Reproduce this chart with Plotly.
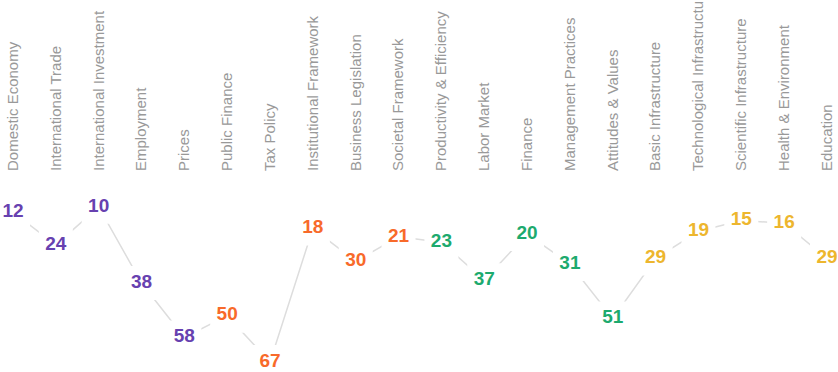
import plotly.graph_objects as go

categories = [
    "Domestic Economy", "International Trade", "International Investment", "Employment", "Prices",
    "Public Finance", "Tax Policy", "Institutional Framework", "Business Legislation", "Societal Framework",
    "Productivity & Efficiency", "Labor Market", "Finance", "Management Practices", "Attitudes & Values",
    "Basic Infrastructure", "Technological Infrastructure", "Scientific Infrastructure", "Health & Environment", "Education",
]
ranks = [12, 24, 10, 38, 58, 50, 67, 18, 30, 21, 23, 37, 20, 31, 51, 29, 19, 15, 16, 29]
groups = ["econ"] * 5 + ["gov"] * 5 + ["biz"] * 5 + ["infra"] * 5
group_colors = {"econ": "#6741B0", "gov": "#F86A2A", "biz": "#1DAA6E", "infra": "#EDB62E"}

text_colors = [group_colors[g] for g in groups]

fig = go.Figure()
fig.add_trace(go.Scatter(
    x=categories,
    y=ranks,
    mode="lines+markers+text",
    line=dict(color="#DDDDDD", width=1.5),
    marker=dict(symbol="square", size=34, color="white", line=dict(width=0)),
    text=[str(r) for r in ranks],
    textposition="middle center",
    textfont=dict(family="Liberation Sans, Arial, sans-serif", size=19, color=text_colors, weight="bold"),
    hoverinfo="skip",
    cliponaxis=False,
))

fig.update_layout(
    width=838,
    height=372,
    margin=dict(l=0, r=0, t=172, b=0),
    paper_bgcolor="white",
    plot_bgcolor="white",
    showlegend=False,
    xaxis=dict(
        side="top",
        tickangle=-90,
        automargin=False,
        range=[-0.303, 19.257],
        showgrid=False,
        zeroline=False,
        showline=False,
        ticks="",
        tickfont=dict(family="Liberation Sans, Arial, sans-serif", size=15, color="#999999"),
    ),
    yaxis=dict(
        range=[70.7, -2.8],
        visible=False,
        automargin=False,
        showgrid=False,
        zeroline=False,
    ),
)

fig.write_html("out.html")
